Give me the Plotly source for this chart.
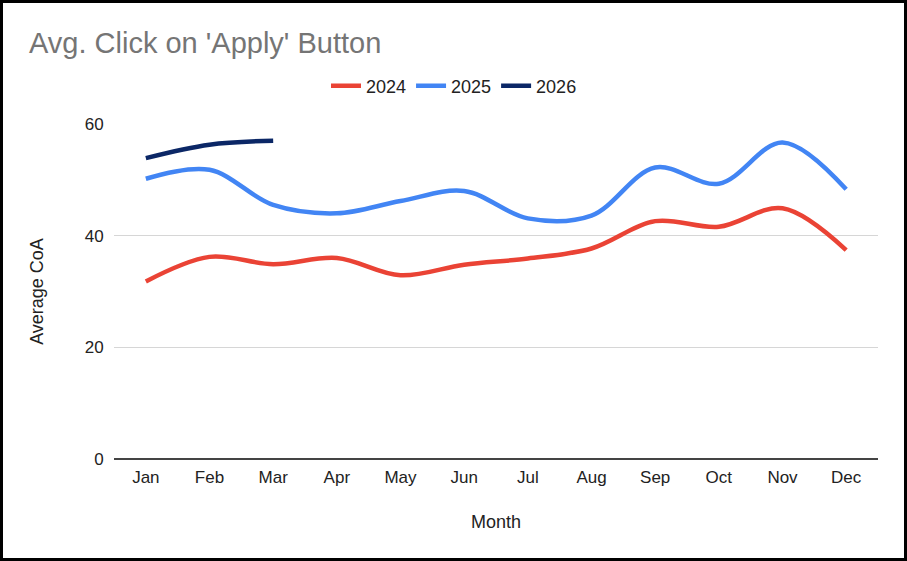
import plotly.graph_objects as go

months = ["Jan", "Feb", "Mar", "Apr", "May", "Jun", "Jul", "Aug", "Sep", "Oct", "Nov", "Dec"]
y2024 = [31.8, 36.2, 34.9, 36.0, 32.9, 34.8, 35.9, 37.7, 42.6, 41.6, 44.9, 37.4]
y2025 = [50.2, 51.8, 45.5, 44.0, 46.2, 48.0, 43.1, 43.6, 52.2, 49.3, 56.7, 48.3]
months_2026 = ["Jan", "Feb", "Mar"]
y2026 = [53.9, 56.3, 57.0]

W, H = 907, 561
ML, MR, MT, MB = 114, 29, 124, 102
PW, PH = W - ML - MR, H - MT - MB

fig = go.Figure()
for name, xs, ys, col in [("2024", months, y2024, "#EA4335"),
                          ("2025", months, y2025, "#4285F4"),
                          ("2026", months_2026, y2026, "#0B2766")]:
    fig.add_trace(go.Scatter(x=xs, y=ys, name=name, mode="lines",
                             line=dict(color=col, width=4.5, shape="spline", smoothing=1.0)))

font = "Liberation Sans, Arial, sans-serif"
txt = "#222222"
fig.update_layout(
    width=W, height=H,
    margin=dict(l=ML, r=MR, t=MT, b=MB),
    paper_bgcolor="white", plot_bgcolor="white",
    font=dict(family=font, size=17, color=txt),
    title=dict(text="Avg. Click on 'Apply' Button", x=29 / W, xanchor="left",
               y=1 - 43 / H, yanchor="middle",
               font=dict(family=font, size=29, color="#757575")),
    legend=dict(orientation="h", x=(454 - ML) / PW, xanchor="center",
                y=1 + (MT - 86) / PH, yanchor="middle",
                font=dict(size=18, color=txt), itemwidth=30),
    showlegend=True,
    xaxis=dict(type="category", categoryorder="array", categoryarray=months,
               range=[-0.5, 11.5], showgrid=False, showline=False,
               ticks="outside", ticklen=3, tickcolor="white",
               title=dict(text="Month", font=dict(size=18, color=txt), standoff=28),
               tickfont=dict(size=17, color=txt)),
    yaxis=dict(range=[0, 60], tickvals=[0, 20, 40, 60], gridcolor="#d6d6d6", gridwidth=1,
               zeroline=True, zerolinecolor="#444444", zerolinewidth=1.6,
               showline=False, ticks="outside", ticklen=6, tickcolor="white",
               title=dict(text="Average CoA", font=dict(size=18, color=txt), standoff=36),
               tickfont=dict(size=17, color=txt)),
)

fig.add_shape(type="rect", xref="paper", yref="paper",
              x0=(1.5 - ML) / PW, x1=(W - 1.5 - ML) / PW,
              y0=-(MB - 1.5) / PH, y1=1 + (MT - 1.5) / PH,
              line=dict(color="black", width=3), fillcolor="rgba(0,0,0,0)", layer="above")

fig.write_html("out.html", config={"displayModeBar": False},
               post_script="document.body.style.margin='0';document.body.style.overflow='hidden';")
